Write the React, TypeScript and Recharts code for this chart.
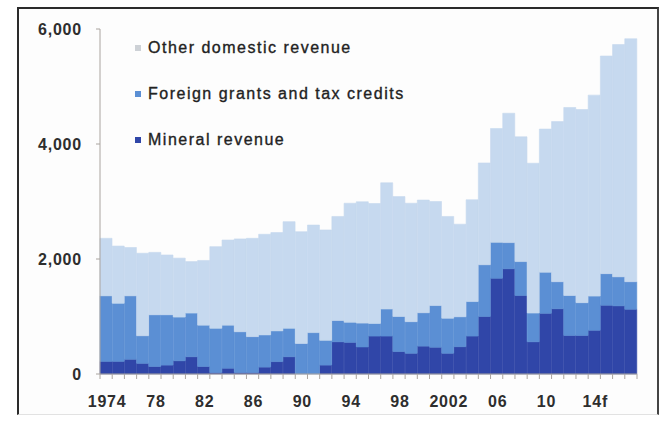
import { BarChart, Bar, XAxis, YAxis, Legend } from 'recharts';

// revenue by source, 1974-2017 (f = forecast)
const years = [
  1974, 1975, 1976, 1977, 1978, 1979, 1980, 1981, 1982, 1983, 1984,
  1985, 1986, 1987, 1988, 1989, 1990, 1991, 1992, 1993, 1994, 1995,
  1996, 1997, 1998, 1999, 2000, 2001, 2002, 2003, 2004, 2005, 2006,
  2007, 2008, 2009, 2010, 2011, 2012, 2013, 2014, 2015, 2016, 2017,
];
const mineral = [
  220, 220, 255, 185, 130, 155, 230, 300, 130, 25, 100,
  25, 25, 120, 215, 300, 0, 0, 155, 560, 550, 470,
  660, 660, 390, 360, 485, 465, 360, 475, 660, 1000, 1665,
  1830, 1365, 560, 1055, 1135, 670, 670, 760, 1195, 1185, 1125,
];
const foreign = [
  1140, 1010, 1105, 480, 900, 875, 760, 760, 720, 770, 750,
  710, 625, 560, 535, 495, 530, 720, 430, 370, 350, 415,
  220, 470, 610, 550, 580, 725, 610, 520, 600, 900, 625,
  455, 590, 500, 715, 470, 695, 570, 595, 550, 505, 480,
];
const otherDomestic = [
  1000, 995, 840, 1435, 1085, 1040, 1025, 895, 1125, 1420, 1480,
  1615, 1710, 1750, 1710, 1855, 1945, 1870, 1920, 1810, 2070, 2110,
  2085, 2195, 2085, 2060, 1960, 1810, 1770, 1610, 1770, 1770, 1980,
  2250, 2170, 2605, 2490, 2785, 3270, 3360, 3495, 3785, 4040, 4225,
];

const labelYears = [1974, 1978, 1982, 1986, 1990, 1994, 1998, 2002, 2006, 2010, 2014];
const labelText = ['1974', '78', '82', '86', '90', '94', '98', '2002', '06', '10', '14f'];
const yTicks = [0, 2000, 4000, 6000];

const data = years.map((year, i) => ({
  year,
  mineral: mineral[i],
  foreign: foreign[i],
  other: otherDomestic[i],
}));

const W = 665;
const H = 421;
const margin = { top: 29, right: 28, bottom: 17, left: 0 };
const Y_AXIS_W = 100;
const BAR_W = (W - margin.left - margin.right - Y_AXIS_W) / years.length;

const FONT = '"Liberation Sans", Arial, sans-serif';
const TEXT = '#2e2e2e';
const AXIS = '#aaa49f';

const series = [
  { key: 'other', name: 'Other domestic revenue', fill: '#c6d9ef', marker: '#cdd1d6' },
  { key: 'foreign', name: 'Foreign grants and tax credits', fill: '#5b8fd4', marker: '#5b8fd4' },
  { key: 'mineral', name: 'Mineral revenue', fill: '#3046a8', marker: '#3046a8' },
];

const YearTick = (props: any) => {
  const { x, y, payload, index } = props;
  const half = BAR_W / 2;
  const li = labelYears.indexOf(payload.value);
  return (
    <g>
      <line x1={x - half} x2={x - half} y1={y} y2={y + 5} stroke={AXIS} />
      {index === years.length - 1 && (
        <line x1={x + half} x2={x + half} y1={y} y2={y + 5} stroke={AXIS} />
      )}
      {li >= 0 && (
        <text
          x={x + 1}
          y={y + 33}
          textAnchor="middle"
          fontFamily={FONT}
          fontSize={16}
          fontWeight="bold"
          letterSpacing={0.8}
          fill={TEXT}
        >
          {labelText[li]}
        </text>
      )}
    </g>
  );
};

const renderLegend = () => (
  <div style={{ fontFamily: FONT, fontSize: 16, letterSpacing: 1.5, color: '#222' }}>
    {series.map((s) => (
      <div key={s.key} style={{ display: 'flex', alignItems: 'center', height: 46 }}>
        <span style={{ width: 6, height: 6, background: s.marker, marginRight: 7 }} />
        <span style={{ WebkitTextStroke: '0.35px #222' }}>{s.name}</span>
      </div>
    ))}
  </div>
);

export default function App() {
  return (
    <div style={{ position: 'absolute', left: 0, top: 0, width: W, height: H, background: '#fff' }}>
      <div
        style={{
          position: 'absolute',
          left: 17,
          top: 7,
          width: 638,
          height: 405,
          background: '#fdfdfd',
          borderLeft: '2px solid #2b2b2b',
          borderTop: '2px solid #2b2b2b',
          borderRight: '2px solid #444',
          borderBottom: '1px solid #e2e2e2',
        }}
      />
      <div style={{ position: 'absolute', left: 0, top: 0 }}>
        <BarChart width={W} height={H} data={data} margin={margin} barCategoryGap={0} barGap={0}>
          <XAxis
            dataKey="year"
            height={30}
            interval={0}
            tickSize={0}
            tickMargin={0}
            tickLine={false}
            axisLine={{ stroke: AXIS }}
            tick={<YearTick />}
          />
          <YAxis
            width={Y_AXIS_W}
            domain={[0, 6000]}
            ticks={yTicks}
            interval={0}
            tickSize={4}
            tickMargin={14}
            axisLine={{ stroke: AXIS }}
            tickLine={{ stroke: AXIS }}
            tickFormatter={(v: number) => v.toLocaleString('en-US')}
            tick={{ fontFamily: FONT, fontSize: 16, fontWeight: 'bold', letterSpacing: 0.8, fill: TEXT }}
          />
          <Legend
            layout="vertical"
            align="center"
            verticalAlign="middle"
            content={renderLegend}
            wrapperStyle={{ position: 'absolute', left: 135, top: 25, width: 320 }}
          />
          <Bar dataKey="mineral" stackId="rev" fill="#3046a8" stroke="#3046a8" strokeWidth={0.6} isAnimationActive={false} />
          <Bar dataKey="foreign" stackId="rev" fill="#5b8fd4" stroke="#5b8fd4" strokeWidth={0.6} isAnimationActive={false} />
          <Bar dataKey="other" stackId="rev" fill="#c6d9ef" stroke="#c6d9ef" strokeWidth={0.6} isAnimationActive={false} />
        </BarChart>
      </div>
    </div>
  );
}
